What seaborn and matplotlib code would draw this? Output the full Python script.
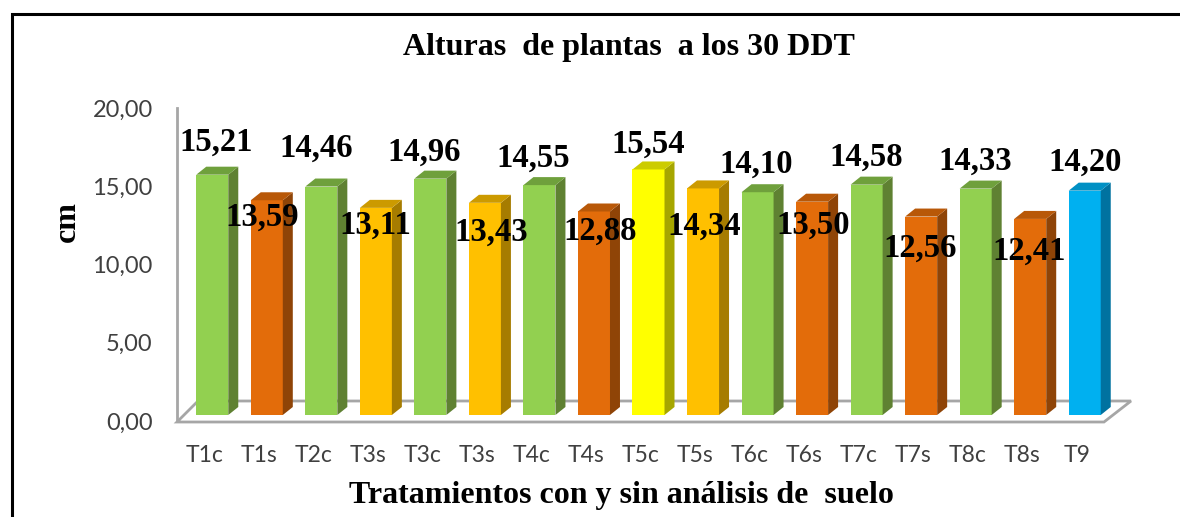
#!/usr/bin/env python3

import matplotlib
matplotlib.use("Agg")
import matplotlib.pyplot as plt
from matplotlib.patches import Polygon, Rectangle
import pandas as pd
import seaborn as sns

W, H = 1180, 517

tratamientos = ["T1c", "T1s", "T2c", "T3s", "T3c", "T3s", "T4c", "T4s", "T5c",
                "T5s", "T6c", "T6s", "T7c", "T7s", "T8c", "T8s", "T9"]
alturas = [15.21, 13.59, 14.46, 13.11, 14.96, 13.43, 14.55, 12.88, 15.54,
           14.34, 14.10, 13.50, 14.58, 12.56, 14.33, 12.41, 14.20]
etiquetas = ["15,21", "13,59", "14,46", "13,11", "14,96", "13,43", "14,55", "12,88", "15,54",
             "14,34", "14,10", "13,50", "14,58", "12,56", "14,33", "12,41", "14,20"]
y_ticks = [0, 5, 10, 15, 20]
y_labels = ["0,00", "5,00", "10,00", "15,00", "20,00"]

# front, side, top of each bar colour
VERDE = ("#92D050", "#5F8132", "#6FA03C")
NARANJA = ("#E36C0A", "#8F4407", "#B85808")
AMBAR = ("#FFC000", "#A67C00", "#CC9A00")
AMARILLO = ("#FFFF00", "#A6A600", "#CCCC00")
AZUL = ("#00B0F0", "#0072A0", "#0090C4")
colores = [VERDE, NARANJA, VERDE, AMBAR, VERDE, AMBAR, VERDE, NARANJA, AMARILLO,
           AMBAR, VERDE, NARANJA, VERDE, NARANJA, VERDE, NARANJA, AZUL]

# label offset from the top centre of each bar, in pixels
label_dx = [3.5, -5, -5.5, -1, -6.5, 6, -6.5, 6, 0, 1, -1.5, 1, 0, -1, 0, -1, 0]
label_dy = [32, -16.5, 38, -17, 26, -29, 27, -20, 25, -38, 27.5, -24, 27, -32, 27, -32, 28]

GRIS = "#A6A6A6"
TEXTO = "#404040"
SERIF = "Liberation Serif"


def px_axes(fig, left, right, top, bottom):
    """Axes placed by pixel edges, y measured from the top of the image."""
    return fig.add_axes([left / W, 1 - bottom / H, (right - left) / W, (bottom - top) / H])


def px_fig(x, y):
    return (x / W, 1 - y / H)


def main():
    sns.set_theme(style="white")
    plt.rcParams["font.family"] = ["Lato", "DejaVu Sans"]

    fig = plt.figure(figsize=(W / 100, H / 100), dpi=100)

    # outer border, runs off the right and bottom of the image
    fig.add_artist(Rectangle(px_fig(12, 530), 1200 / W, 516 / H, fill=False, ec="black", lw=2.2,
                             transform=fig.transFigure, zorder=-1))

    # floor of the 3D box, behind the bars
    floor = [px_fig(177, 422), px_fig(1104, 422), px_fig(1131, 401), px_fig(198, 401)]
    fig.add_artist(Polygon(floor, closed=True, fill=False, ec=GRIS, lw=2,
                           transform=fig.transFigure, zorder=-1))

    # axis with the tick labels
    frame = px_axes(fig, 177, 1104, 108, 421)
    frame.set_facecolor("none")
    frame.set_xlim(-0.5, len(alturas) - 0.5)
    frame.set_ylim(0, 20)
    sns.despine(ax=frame, top=True, right=True, bottom=True)
    frame.spines["left"].set_color(GRIS)
    frame.spines["left"].set_linewidth(2)
    frame.set_xticks(range(len(tratamientos)))
    frame.set_xticklabels(tratamientos, fontsize=16.5, color=TEXTO)
    frame.set_yticks(y_ticks)
    frame.set_yticklabels(y_labels, fontsize=17, color=TEXTO)
    frame.tick_params(axis="x", length=0, pad=17.5)
    frame.tick_params(axis="y", length=0, pad=17.5)

    # bars stand a little behind the front edge of the floor
    ax = px_axes(fig, 185, 1112, 99, 415)
    ax.set_facecolor("none")
    df = pd.DataFrame({"pos": range(len(alturas)), "altura": alturas})
    sns.barplot(data=df, x="pos", y="altura", hue="pos", ax=ax, width=0.587, legend=False,
                palette=[c[0] for c in colores], saturation=1, linewidth=0)
    ax.set_xlim(-0.5, len(alturas) - 0.5)
    ax.set_ylim(0, 20)
    ax.axis("off")

    # side and top faces
    dx = 10 * (len(alturas) / 927)
    dy = 8 * (20 / 316)
    for bar, color in zip(ax.patches, colores):
        x0, x1 = bar.get_x(), bar.get_x() + bar.get_width()
        h = bar.get_height()
        ax.add_patch(Polygon([(x1, 0), (x1 + dx, dy), (x1 + dx, h + dy), (x1, h)],
                             fc=color[1], ec="none", clip_on=False))
        ax.add_patch(Polygon([(x0, h), (x0 + dx, h + dy), (x1 + dx, h + dy), (x1, h)],
                             fc=color[2], ec="none", clip_on=False))

    for i, (h, txt) in enumerate(zip(alturas, etiquetas)):
        ax.annotate(txt, (i, h), xytext=(label_dx[i], label_dy[i]), textcoords="offset pixels",
                    ha="center", va="center", fontsize=23.5, fontweight="bold",
                    family=SERIF, color="black", annotation_clip=False, zorder=5)

    fig.text(629 / W, 1 - 47 / H, "Alturas  de plantas  a los 30 DDT", ha="center", va="center",
             fontsize=23, fontweight="bold", family=SERIF, color="black")
    fig.text(621 / W, 1 - 496 / H, "Tratamientos con y sin análisis de  suelo", ha="center",
             va="center", fontsize=23, fontweight="bold", family=SERIF, color="black")
    fig.text(67 / W, 1 - 222 / H, "cm", rotation=90, ha="center", va="center",
             fontsize=23, fontweight="bold", family=SERIF, color="black")

    fig.savefig("out.png", dpi=100)
    plt.close(fig)


if __name__ == "__main__":
    main()
